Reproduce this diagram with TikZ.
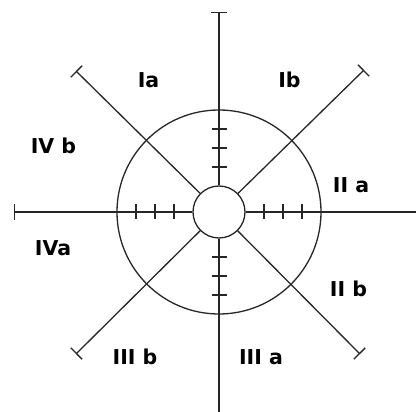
\documentclass[tikz,border=0pt]{standalone}
\usepackage{fontspec}
\newfontfamily\labfont{DejaVu Sans}[BoldFont={DejaVu Sans Bold}]
\usetikzlibrary{arrows.meta,calc}
\tikzset{
  ray/.style={line width=1.3pt, draw=black!85},
  capped/.style={ray, -{Bar[width=16pt]}},
  tick/.style={line width=1.3pt, draw=black!85},
  ring/.style={circle, draw=black!85, line width=1.3pt, inner sep=0pt, fill=none},
  lab/.style={font=\labfont\bfseries\fontsize{20.5}{22}\selectfont, inner sep=0pt, anchor=base}
}
\begin{document}
\begin{tikzpicture}[x=1pt,y=-1pt]
\useasboundingbox (0,0) rectangle (416,412);
\coordinate (C) at (219,212);
\node[ring, minimum size=204pt] (outer) at (C) {};
\node[ring, minimum size=52pt] (inner) at (C) {};
% free ends
\coordinate (top) at (219,12);
\coordinate (bot) at (219,412);
\coordinate (lft) at (14,212);
\coordinate (rgt) at (416,212);
\coordinate (ul) at (76,71);
\coordinate (ur) at (364,70);
\coordinate (ll) at (76,354);
\coordinate (lr) at (360,354);
% rays
\draw[capped] (inner) -- (top);
\draw[ray] (inner) -- (bot);
\draw[capped] (inner) -- (lft);
\draw[ray] (inner) -- (rgt);
\draw[capped] (inner) -- (ul);
\draw[capped] (inner) -- (ur);
\draw[capped] (inner) -- (ll);
\draw[capped] (inner) -- (lr);
% ticks
\foreach \d in {45,64,83}{
  \draw[tick] ($(C)+(-7.5,-\d)$) -- ($(C)+(7.5,-\d)$);
  \draw[tick] ($(C)+(-7.5,\d)$) -- ($(C)+(7.5,\d)$);
  \draw[tick] ($(C)+(-\d,-7.5)$) -- ($(C)+(-\d,7.5)$);
  \draw[tick] ($(C)+(\d,-7.5)$) -- ($(C)+(\d,7.5)$);
}
% labels
\node[lab] (Ia) at (148.5,87.3) {Ia};
\node[lab] (Ib) at (289.5,87.3) {Ib};
\node[lab] (IVb) at (53.5,154) {IV b};
\node[lab] (IIa) at (351,193) {II a};
\node[lab] (IVa) at (53,255) {IVa};
\node[lab] (IIb) at (348.5,296.5) {II b};
\node[lab] (IIIb) at (135,365) {III b};
\node[lab] (IIIa) at (261,365) {III a};
\end{tikzpicture}
\end{document}
